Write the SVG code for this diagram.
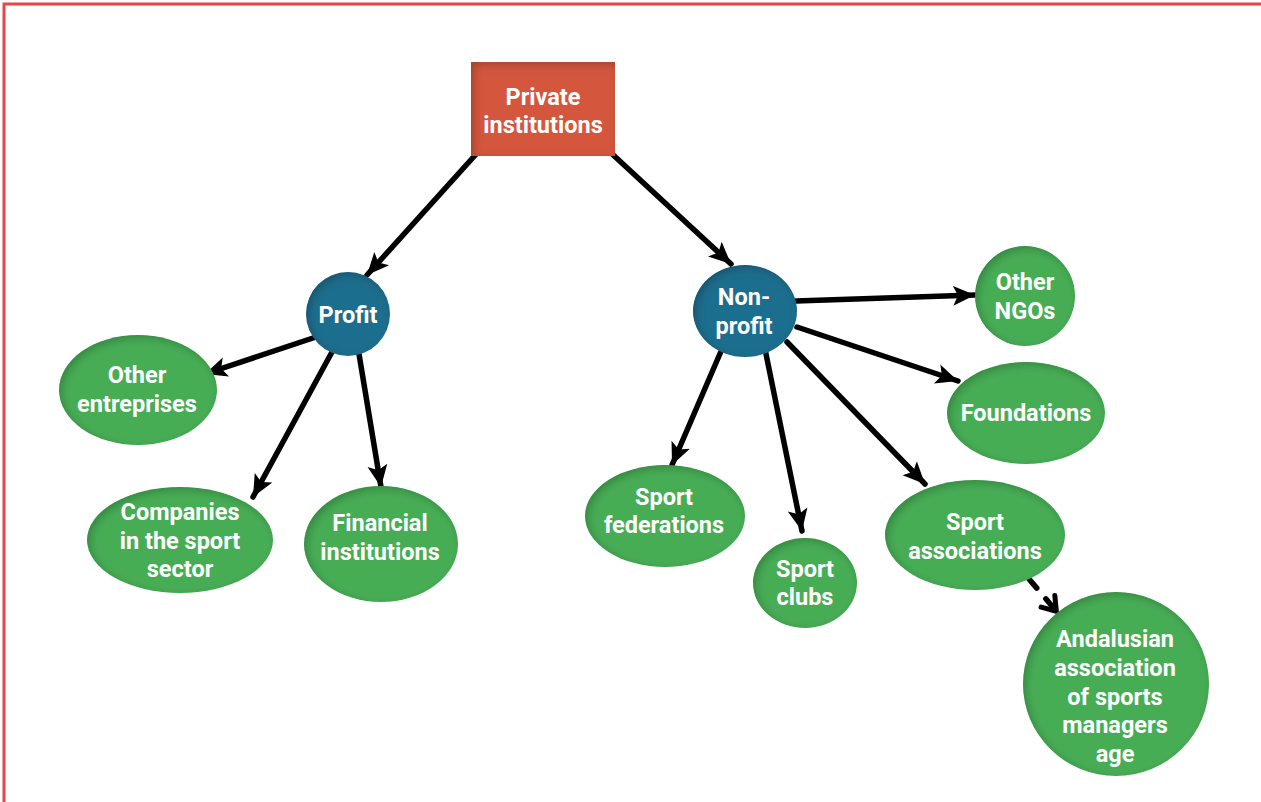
<svg xmlns="http://www.w3.org/2000/svg" width="1261" height="802" viewBox="0 0 1261 802">
  <style>
    .lbl { font-family: Roboto, "Liberation Sans", sans-serif; font-weight: 700; font-size: 23.5px; fill: #ffffff; text-anchor: middle; }
    .green { fill: #47ad55; }
    .blue { fill: #1f6e8e; }
    .orange { fill: #d3573d; }
    .edge { stroke: #000000; stroke-width: 5.5; stroke-linecap: round; fill: none; }
    .dash { stroke-dasharray: 12 14; }
  </style>
  <defs>
    <filter id="inset" x="-10%" y="-10%" width="120%" height="120%">
      <feGaussianBlur in="SourceAlpha" stdDeviation="5" result="blur"/>
      <feOffset in="blur" dx="3" dy="3" result="off"/>
      <feComposite in="SourceAlpha" in2="off" operator="arithmetic" k2="1" k3="-1" result="edge"/>
      <feFlood flood-color="#000000" flood-opacity="0.45"/>
      <feComposite in2="edge" operator="in" result="shade"/>
      <feComposite in="shade" in2="SourceGraphic" operator="over"/>
    </filter>
    <marker id="head" markerUnits="userSpaceOnUse" markerWidth="26" markerHeight="24" refX="22" refY="12" orient="auto">
      <path d="M0,2 L22,12 L0,22 L5,12 Z" fill="#000000"/>
    </marker>
    <marker id="chev" markerUnits="userSpaceOnUse" markerWidth="26" markerHeight="24" refX="20" refY="12" orient="auto">
      <path d="M6,3 L19,12 L6,21" fill="none" stroke="#000000" stroke-width="5" stroke-linecap="round" stroke-linejoin="round"/>
    </marker>
  </defs>

  <!-- frame -->
  <path d="M4,802 L4,4 L1261,4" fill="none" stroke="#e84545" stroke-width="3"/>

  <!-- connectors -->
  <g id="connectors">
    <line class="edge" x1="478" y1="152" x2="367" y2="275" marker-end="url(#head)"/>
    <line class="edge" x1="610" y1="152" x2="731" y2="264" marker-end="url(#head)"/>
    <line class="edge" x1="316" y1="337" x2="205" y2="374" marker-end="url(#head)"/>
    <line class="edge" x1="332" y1="352" x2="253" y2="497" marker-end="url(#head)"/>
    <line class="edge" x1="359" y1="354" x2="381" y2="487" marker-end="url(#head)"/>
    <line class="edge" x1="796" y1="301" x2="975" y2="295" marker-end="url(#head)"/>
    <line class="edge" x1="797" y1="327" x2="958" y2="381" marker-end="url(#head)"/>
    <line class="edge" x1="787" y1="342" x2="925" y2="484" marker-end="url(#head)"/>
    <line class="edge" x1="765" y1="349" x2="802" y2="531" marker-end="url(#head)"/>
    <line class="edge" x1="722" y1="349" x2="672" y2="465" marker-end="url(#head)"/>
    <line class="edge dash" x1="1029" y1="579" x2="1057" y2="612" marker-end="url(#chev)"/>
  </g>

  <g id="private-institutions">
    <rect class="orange" x="471" y="62" width="144" height="94" filter="url(#inset)"/>
    <text class="lbl" x="543" y="105">Private</text>
    <text class="lbl" x="543" y="133">institutions</text>
  </g>

  <g id="profit">
    <circle class="blue" cx="348" cy="314" r="42" filter="url(#inset)"/>
    <text class="lbl" x="348" y="323">Profit</text>
  </g>

  <g id="non-profit">
    <ellipse class="blue" cx="745" cy="311" rx="52" ry="46" filter="url(#inset)"/>
    <text class="lbl" x="744" y="305">Non-</text>
    <text class="lbl" x="744" y="334">profit</text>
  </g>

  <g id="other-entreprises">
    <ellipse class="green" cx="138" cy="390" rx="79" ry="55" filter="url(#inset)"/>
    <text class="lbl" x="137" y="383">Other</text>
    <text class="lbl" x="137" y="412">entreprises</text>
  </g>

  <g id="companies">
    <ellipse class="green" cx="180" cy="540" rx="93" ry="53" filter="url(#inset)"/>
    <text class="lbl" x="180" y="520">Companies</text>
    <text class="lbl" x="180" y="549">in the sport</text>
    <text class="lbl" x="180" y="577">sector</text>
  </g>

  <g id="financial-institutions">
    <ellipse class="green" cx="381" cy="544" rx="77" ry="58" filter="url(#inset)"/>
    <text class="lbl" x="380" y="531">Financial</text>
    <text class="lbl" x="380" y="560">institutions</text>
  </g>

  <g id="other-ngos">
    <ellipse class="green" cx="1025" cy="296" rx="50" ry="50" filter="url(#inset)"/>
    <text class="lbl" x="1025" y="290">Other</text>
    <text class="lbl" x="1025" y="319">NGOs</text>
  </g>

  <g id="foundations">
    <ellipse class="green" cx="1026" cy="413" rx="79" ry="51" filter="url(#inset)"/>
    <text class="lbl" x="1026" y="421">Foundations</text>
  </g>

  <g id="sport-federations">
    <ellipse class="green" cx="665" cy="516" rx="80" ry="51" filter="url(#inset)"/>
    <text class="lbl" x="664" y="505">Sport</text>
    <text class="lbl" x="664" y="533">federations</text>
  </g>

  <g id="sport-clubs">
    <ellipse class="green" cx="805" cy="583" rx="52" ry="45" filter="url(#inset)"/>
    <text class="lbl" x="805" y="577">Sport</text>
    <text class="lbl" x="805" y="605">clubs</text>
  </g>

  <g id="sport-associations">
    <ellipse class="green" cx="975" cy="535" rx="90" ry="55" filter="url(#inset)"/>
    <text class="lbl" x="975" y="530">Sport</text>
    <text class="lbl" x="975" y="559">associations</text>
  </g>

  <g id="andalusian-association">
    <ellipse class="green" cx="1116" cy="684" rx="93" ry="92" filter="url(#inset)"/>
    <text class="lbl" x="1115" y="647">Andalusian</text>
    <text class="lbl" x="1115" y="676">association</text>
    <text class="lbl" x="1115" y="705">of sports</text>
    <text class="lbl" x="1115" y="733">managers</text>
    <text class="lbl" x="1115" y="762">age</text>
  </g>
</svg>
